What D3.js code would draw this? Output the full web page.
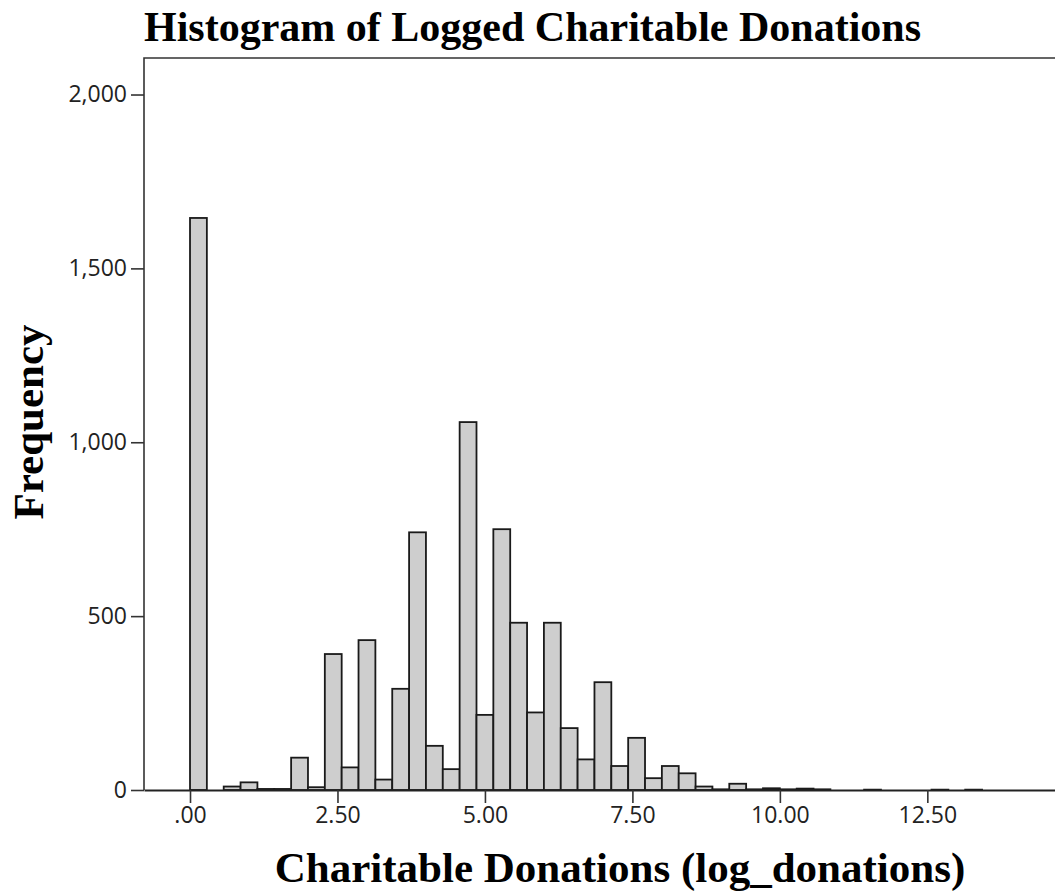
<!DOCTYPE html>
<html>
<head>
<meta charset="utf-8">
<script src="https://cdn.jsdelivr.net/npm/d3@7"></script>
<style>
  html, body { margin: 0; padding: 0; background: #ffffff; }
  svg { display: block; }
</style>
</head>
<body>
<svg id="chart" width="1055" height="892"></svg>
<script>
// ---- Data ----
const title = "Histogram of Logged Charitable Donations";
const xLabel = "Charitable Donations (log_donations)";
const yLabel = "Frequency";
const binStart = 0;
const binWidth = 0.2857;
const binCounts = [
  1645, 0, 10, 22, 3, 3, 93, 8, 391, 65,
  431, 30, 291, 741, 127, 60, 1058, 216, 750, 481,
  223, 481, 178, 88, 310, 69, 150, 34, 69, 48,
  10, 2, 18, 2, 5, 2, 4, 2, 0, 0,
  1, 0, 0, 0, 1, 0, 1
];
const xTickValues = [0, 2.5, 5, 7.5, 10, 12.5];
const xTickLabels = [".00", "2.50", "5.00", "7.50", "10.00", "12.50"];
const yTickValues = [0, 500, 1000, 1500, 2000];
const xDomain = [-0.78, 14.8];
const yDomain = [0, 2105];

(function () {
  // ---- Layout ----
  const svg = d3.select("#chart");
  const mLeft = 144, mTop = 58, mBottom = 790, mRight = 1063;

  const x = d3.scaleLinear().domain(xDomain).range([mLeft, mRight]);
  const y = d3.scaleLinear().domain(yDomain).range([mBottom, mTop]);

  const bins = binCounts.map((c, i) => ({
    x0: binStart + i * binWidth,
    x1: binStart + (i + 1) * binWidth,
    count: c
  }));

  // Bars
  svg.append("g").selectAll("rect")
    .data(bins)
    .join("rect")
    .attr("x", d => x(d.x0))
    .attr("y", d => y(d.count))
    .attr("width", d => x(d.x1) - x(d.x0))
    .attr("height", d => y(0) - y(d.count))
    .attr("fill", "#cecece")
    .attr("stroke", "#1a1a1a")
    .attr("stroke-width", 1.8);

  // Frame (top and left borders)
  svg.append("path")
    .attr("d", `M${mLeft},${mBottom} L${mLeft},${mTop} L${mRight},${mTop}`)
    .attr("fill", "none")
    .attr("stroke", "#333")
    .attr("stroke-width", 1.6);

  // X axis
  const xAxis = d3.axisBottom(x)
    .tickValues(xTickValues)
    .tickFormat((d, i) => xTickLabels[i])
    .tickSize(13)
    .tickPadding(4)
    .tickSizeOuter(0);
  const gx = svg.append("g")
    .attr("transform", `translate(0,${mBottom})`)
    .call(xAxis);
  gx.select(".domain").attr("stroke", "#222").attr("stroke-width", 1.8);
  gx.selectAll(".tick line").attr("stroke", "#333").attr("stroke-width", 1.6);
  gx.selectAll(".tick text")
    .attr("fill", "#222")
    .style("font-family", "'Open Sans', sans-serif")
    .style("font-size", "23px");

  // Y axis
  const yAxis = d3.axisLeft(y)
    .tickValues(yTickValues)
    .tickFormat(d3.format(","))
    .tickSize(13)
    .tickPadding(4)
    .tickSizeOuter(0);
  const gy = svg.append("g")
    .attr("transform", `translate(${mLeft},0)`)
    .call(yAxis);
  gy.select(".domain").remove();
  gy.selectAll(".tick line").attr("stroke", "#333").attr("stroke-width", 1.6);
  gy.selectAll(".tick text")
    .attr("fill", "#222")
    .style("font-family", "'Open Sans', sans-serif")
    .style("font-size", "23px");

  // Title
  svg.append("text")
    .attr("x", 144)
    .attr("y", 41)
    .attr("text-anchor", "start")
    .style("font-family", "'Liberation Serif', 'Times New Roman', serif")
    .style("font-weight", "bold")
    .style("font-size", "42px")
    .attr("fill", "#000")
    .text(title);

  // X label
  svg.append("text")
    .attr("x", 620)
    .attr("y", 882)
    .attr("text-anchor", "middle")
    .style("font-family", "'Liberation Serif', 'Times New Roman', serif")
    .style("font-weight", "bold")
    .style("font-size", "43px")
    .attr("fill", "#000")
    .text(xLabel);

  // Y label
  svg.append("text")
    .attr("transform", "translate(43,422) rotate(-90)")
    .attr("text-anchor", "middle")
    .style("font-family", "'Liberation Serif', 'Times New Roman', serif")
    .style("font-weight", "bold")
    .style("font-size", "43px")
    .attr("fill", "#000")
    .text(yLabel);
})();
</script>
</body>
</html>
